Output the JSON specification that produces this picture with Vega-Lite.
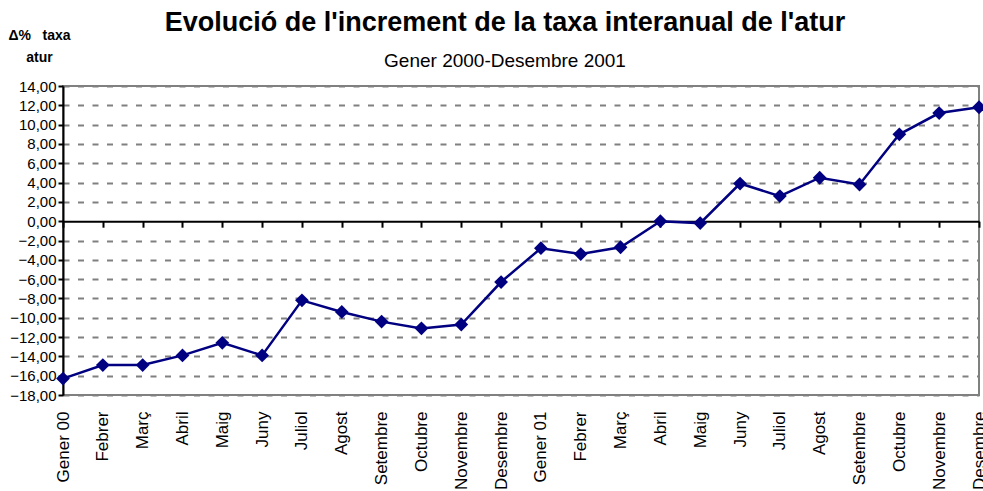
{
  "$schema": "https://vega.github.io/schema/vega-lite/v6.json",
  "autosize": "none",
  "width": 916,
  "height": 309,
  "padding": {"left": 63, "top": 86, "right": 4, "bottom": 96},
  "background": "white",
  "config": {
    "font": "Liberation Sans",
    "view": {"stroke": "#808080", "strokeWidth": 2}
  },
  "title": {
    "text": "Evolució de l'increment de la taxa interanual de l'atur",
    "subtitle": "Gener 2000-Desembre 2001",
    "anchor": "middle",
    "frame": "group",
    "dx": -16,
    "dy": 58,
    "offset": 14,
    "font": "Liberation Sans",
    "fontSize": 27,
    "fontWeight": "bold",
    "color": "black",
    "subtitleFont": "Liberation Sans",
    "subtitleFontSize": 19,
    "subtitleColor": "black",
    "subtitlePadding": 15
  },
  "data": {
    "values": [
      {"mes": "Gener 00", "valor": -16.3},
      {"mes": "Febrer 00", "valor": -14.9},
      {"mes": "Març 00", "valor": -14.9},
      {"mes": "Abril 00", "valor": -13.9},
      {"mes": "Maig 00", "valor": -12.6},
      {"mes": "Juny 00", "valor": -13.9},
      {"mes": "Juliol 00", "valor": -8.2},
      {"mes": "Agost 00", "valor": -9.4},
      {"mes": "Setembre 00", "valor": -10.4},
      {"mes": "Octubre 00", "valor": -11.1},
      {"mes": "Novembre 00", "valor": -10.7},
      {"mes": "Desembre 00", "valor": -6.3},
      {"mes": "Gener 01", "valor": -2.8},
      {"mes": "Febrer 01", "valor": -3.4},
      {"mes": "Març 01", "valor": -2.7},
      {"mes": "Abril 01", "valor": 0.0},
      {"mes": "Maig 01", "valor": -0.2},
      {"mes": "Juny 01", "valor": 3.9},
      {"mes": "Juliol 01", "valor": 2.6},
      {"mes": "Agost 01", "valor": 4.5},
      {"mes": "Setembre 01", "valor": 3.8},
      {"mes": "Octubre 01", "valor": 9.0},
      {"mes": "Novembre 01", "valor": 11.2},
      {"mes": "Desembre 01", "valor": 11.8}
    ]
  },
  "encoding": {
    "y": {
      "field": "valor",
      "type": "quantitative",
      "scale": {"domain": [-18, 14], "nice": false, "zero": false},
      "axis": {
        "values": [-18, -16, -14, -12, -10, -8, -6, -4, -2, 0, 2, 4, 6, 8, 10, 12, 14],
        "labelExpr": "replace(format(datum.value, '.2f'), '.', ',')",
        "labelFont": "Liberation Sans",
        "labelFontSize": 15,
        "labelColor": "black",
        "labelPadding": 2,
        "tickColor": "black",
        "tickSize": 5,
        "tickWidth": 2,
        "domainColor": "black",
        "domainWidth": 2,
        "grid": true,
        "gridColor": "#808080",
        "gridWidth": 2,
        "gridDash": [6, 8.5],
        "gridOpacity": {"condition": {"test": "datum.value === 0", "value": 0}, "value": 1},
        "title": ["Δ%\u00a0\u00a0\u00a0taxa", "atur"],
        "titleAngle": 0,
        "titleX": -24,
        "titleY": -47,
        "titleAlign": "center",
        "titleBaseline": "alphabetic",
        "titleFont": "Liberation Sans",
        "titleFontSize": 14,
        "titleFontWeight": "bold",
        "titleColor": "black",
        "titleLineHeight": 22
      }
    }
  },
  "layer": [
    {
      "mark": {"type": "point", "opacity": 0},
      "encoding": {
        "x": {
          "field": "mes",
          "type": "ordinal",
          "sort": null,
          "scale": {"type": "point", "padding": 0},
          "axis": {
            "orient": "bottom",
            "title": null,
            "domain": false,
            "ticks": false,
            "tickSize": 0,
            "grid": false,
            "labelAngle": -90,
            "labelAlign": "right",
            "labelBaseline": "middle",
            "labelPadding": 16,
            "labelFont": "Liberation Sans",
            "labelFontSize": 17,
            "labelColor": "black",
            "labelOverlap": false,
            "labelBound": false,
            "labelExpr": "indexof(datum.label, 'Gener') === 0 ? datum.label : split(datum.label, ' ')[0]"
          }
        }
      }
    },
    {
      "mark": {
        "type": "line",
        "color": "#000080",
        "strokeWidth": 2.5,
        "point": {"shape": "diamond", "size": 190, "filled": true, "color": "#000080", "opacity": 1}
      },
      "encoding": {
        "x": {
          "field": "mes",
          "type": "ordinal",
          "sort": null,
          "scale": {"type": "point", "padding": 0},
          "axis": {
            "orient": "bottom",
            "offset": -173.8,
            "title": null,
            "labels": false,
            "grid": false,
            "domain": true,
            "domainColor": "black",
            "domainWidth": 2,
            "ticks": true,
            "tickColor": "black",
            "tickSize": 6,
            "tickWidth": 2
          }
        }
      }
    }
  ],
  "resolve": {"axis": {"x": "independent"}}
}
